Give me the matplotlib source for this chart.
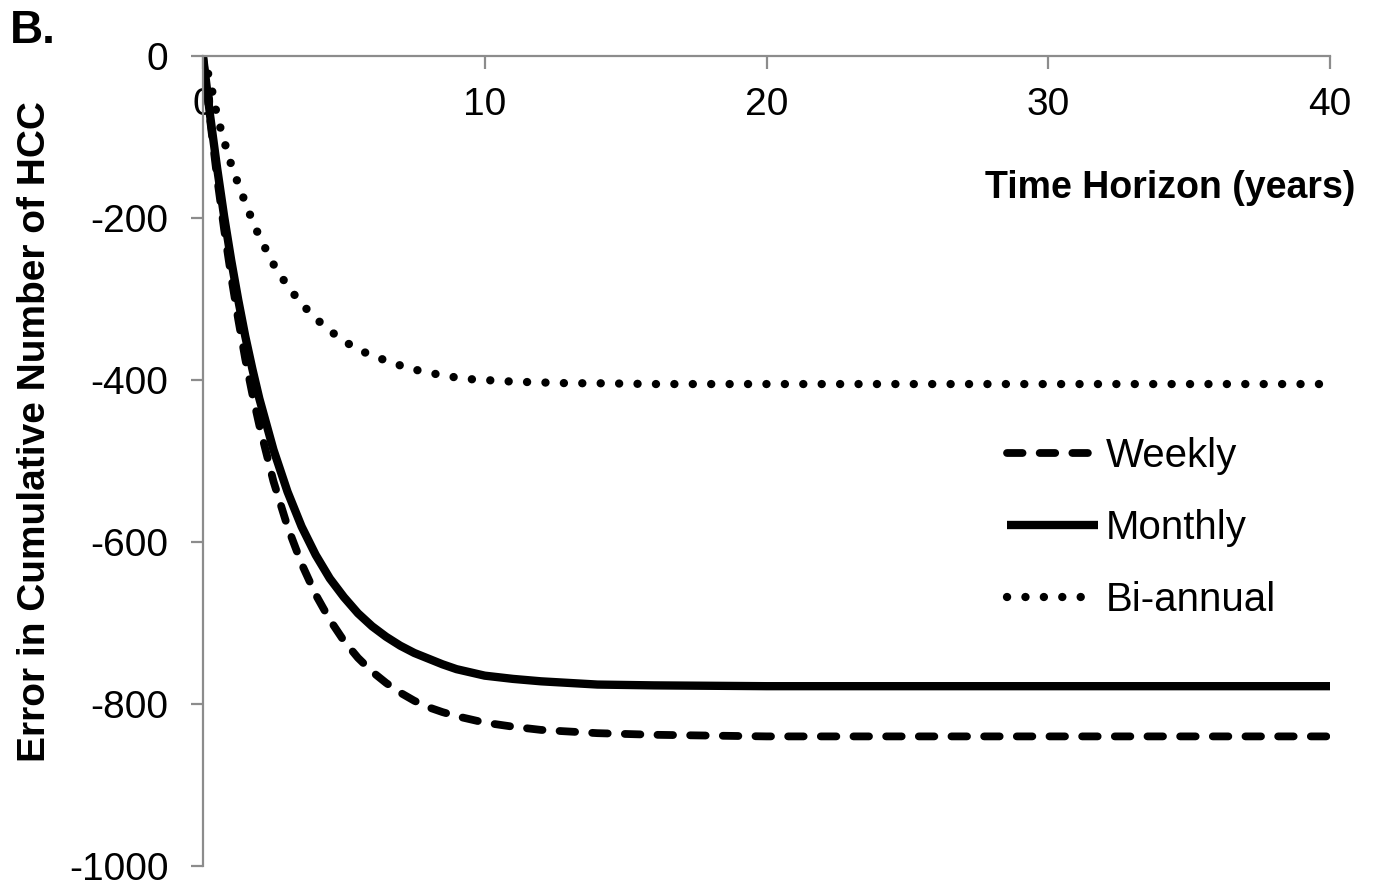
import matplotlib
matplotlib.use('Agg')
import matplotlib.pyplot as plt

plt.rcParams['font.family'] = ['Liberation Sans', 'DejaVu Sans']
plt.rcParams['axes.unicode_minus'] = False

# ---- data ----
years = [0, 0.25, 0.5, 0.75, 1, 1.25, 1.5, 1.75, 2, 2.5, 3, 3.5, 4, 4.5, 5,
         5.5, 6, 6.5, 7, 7.5, 8, 8.5, 9, 9.5, 10, 11, 12, 13, 14, 16, 20, 25,
         30, 35, 40]
weekly = [0, -78, -150, -214, -272, -325, -374, -417, -456, -525, -581, -627,
          -665, -696, -722, -743, -760, -774, -786, -796, -804, -810, -815,
          -819, -823, -828, -832, -834, -836, -838, -840, -840, -840, -840,
          -840]
monthly = [0, -73, -138, -198, -252, -301, -346, -386, -423, -486, -538, -581,
           -616, -645, -668, -688, -704, -717, -728, -737, -744, -751, -757,
           -761, -765, -769, -772, -774, -776, -777, -778, -778, -778, -778,
           -778]
biannual = [0, -30, -74, -105, -134, -158, -181, -203, -223, -257, -284, -306,
            -324, -339, -352, -362, -370, -376, -382, -387, -391, -394, -397,
            -399, -400, -402, -403, -404, -404, -405, -405, -405, -405, -405,
            -405]
labels = ['Weekly', 'Monthly', 'Bi-annual']
x_ticks = [0, 10, 20, 30, 40]
y_ticks = [0, -200, -400, -600, -800, -1000]

W, H = 1376, 888
fig = plt.figure(figsize=(W / 100, H / 100), dpi=100)
ax = fig.add_axes([203 / W, 1 - 866 / H, (1330 - 203) / W, (866 - 56) / H])

ax.plot(years, weekly, color='black', lw=5.6, linestyle=(0, (2.0, 2.2)),
        dash_capstyle='round', label=labels[0])
ax.plot(years, monthly, color='black', lw=6.0, solid_capstyle='butt',
        label=labels[1])
ax.plot(years, biannual, color='black', lw=6.0, linestyle=(0, (0.01, 2.2)),
        dash_capstyle='round', label=labels[2])

ax.set_xlim(0, 40)
ax.set_ylim(-1000, 0)
ax.set_xticks(x_ticks)
ax.set_yticks(y_ticks)

gray = '#8c8c8c'
for s in ['top', 'right']:
    ax.spines[s].set_visible(False)
ax.spines['bottom'].set_position(('data', 0))
for s in ['bottom', 'left']:
    ax.spines[s].set_color(gray)
    ax.spines[s].set_linewidth(1.6)
ax.tick_params(axis='both', direction='out', length=9, width=1.6,
               color=gray, labelsize=28)
ax.tick_params(axis='x', pad=13)
ax.tick_params(axis='y', pad=16)

ax.set_xlabel('Time Horizon (years)', fontsize=27, fontweight='bold')
ax.xaxis.label.set_ha('right')
ax.xaxis.label.set_va('center')
ax.xaxis.set_label_coords((1355 - 203) / 1127, (866 - 188) / 810)

ax.set_ylabel('Error in Cumulative Number of HCC', fontsize=28,
              fontweight='bold')
ax.yaxis.label.set_va('center')
ax.yaxis.label.set_ha('center')
ax.yaxis.set_label_coords((35 - 203) / 1127, (866 - 432) / 810)

leg = ax.legend(loc='center left',
                bbox_to_anchor=((1007 - 203) / 1127, (866 - 528) / 810),
                frameon=False, fontsize=29, handlelength=2.25,
                handletextpad=0.2, labelspacing=0.85, borderpad=0,
                borderaxespad=0)

fig.text(10 / W, 1 - 43 / H, 'B.', fontsize=33, fontweight='bold',
         ha='left', va='baseline')

fig.savefig('out.png', dpi=100)
